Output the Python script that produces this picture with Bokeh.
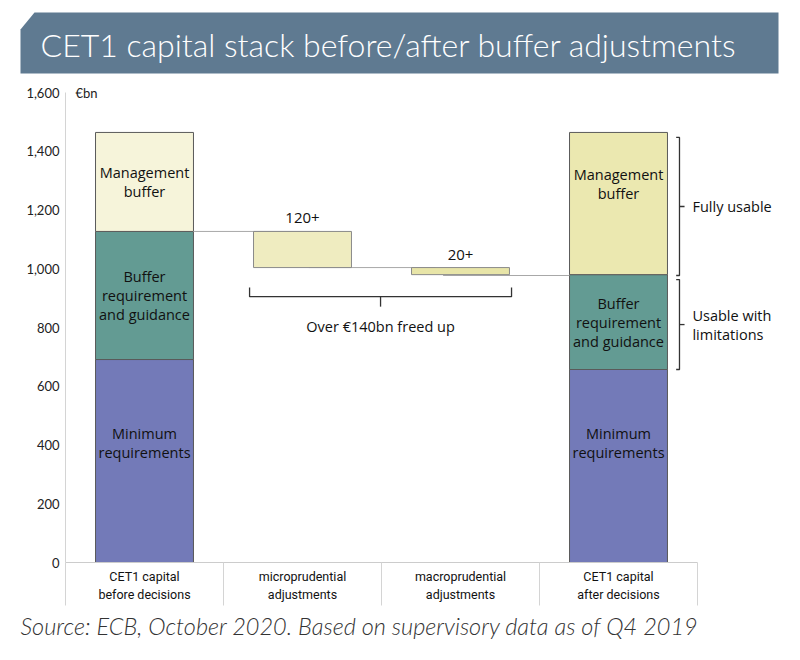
from bokeh.plotting import figure
from bokeh.layouts import column
from bokeh.models import FixedTicker, NumeralTickFormatter
from bokeh.core.properties import value
from bokeh.embed import file_html
from bokeh.resources import INLINE

# ---------------- data ----------------
categories = ["CET1 capital\nbefore decisions", "microprudential\nadjustments",
              "macroprudential\nadjustments", "CET1 capital\nafter decisions"]
segments = ["Minimum\nrequirements", "Buffer\nrequirement\nand guidance", "Management\nbuffer"]
before_vals = [691, 436, 337]     # €bn: minimum, buffer req., management buffer
after_vals = [657, 323, 484]
micro_release = 123               # "120+"
macro_release = 24                # "20+"
release_labels = ["120+", "20+"]
total_label = "Over €140bn freed up"
side_labels = ["Fully usable", "Usable with\nlimitations"]
y_ticks = [0, 200, 400, 600, 800, 1000, 1200, 1400, 1600]
unit_label = "€bn"
title_text = "CET1 capital stack before/after buffer adjustments"
source_text = "Source: ECB, October 2020. Based on supervisory data as of Q4 2019"

# ---------------- styles ----------------
W = 784
seg_colors_before = ["#737ab8", "#639b93", "#f6f4da"]
seg_colors_after = ["#737ab8", "#639b93", "#ebe8b0"]
box_colors = ["#efecc0", "#e8e5a8"]
LABEL_FONT = value("Open Sans")
bar_w = 0.62


def blank(h):
    f = figure(width=W, height=h, x_range=(0, W), y_range=(0, h),
               output_backend="svg", toolbar_location=None, min_border=0, frame_align=False)
    f.axis.visible = False
    f.grid.visible = False
    f.outline_line_color = None
    return f


# ---------------- header ----------------
hdr_h = 80
hdr = blank(hdr_h)
hdr.patch([20, 20, 34, 778, 778], [7, 51, 68, 68, 7], fill_color="#5f7a91", line_color=None)
hdr.text(x=[40], y=[36], text=[title_text], text_color="white", text_font_size="32px",
         text_font=value("Lato Light"), text_baseline="middle", text_align="left")

# ---------------- main chart ----------------
main_h = 526
px_per_cat = 158.0
px_per_unit = 470.0 / 1600.0
x_end = 4 + (W - 65 - 4 * px_per_cat) / px_per_cat
y_end = 1600 + 12 / px_per_unit
p = figure(width=W, height=main_h, x_range=(0, x_end), y_range=(0, y_end),
           output_backend="svg", toolbar_location=None, frame_align=False,
           min_border_left=65, min_border_right=0, min_border_top=0, min_border_bottom=44)
p.grid.visible = False
p.outline_line_color = None


def stack(vals):
    b, t = [], []
    acc = 0
    for v in vals:
        b.append(acc)
        acc += v
        t.append(acc)
    return b, t


bb, bt = stack(before_vals)
ab, at = stack(after_vals)
p.vbar(x=[0.5] * 3, bottom=bb, top=bt, width=bar_w, fill_color=seg_colors_before,
       line_color="#5a5a5a", line_width=1)
p.vbar(x=[3.5] * 3, bottom=ab, top=at, width=bar_w, fill_color=seg_colors_after,
       line_color="#5a5a5a", line_width=1)

# release boxes (waterfall)
micro_top = bt[1]
micro_bot = micro_top - micro_release
macro_top = micro_bot
macro_bot = macro_top - macro_release

# connectors
p.segment(x0=[0.5 + bar_w / 2, 1.54, 2.39], x1=[1.61, 2.34, 3.5 - bar_w / 2],
          y0=[micro_top, micro_bot, macro_bot - 3], y1=[micro_top, micro_bot, macro_bot - 3],
          line_color="#a8a8a8", line_width=1)

p.vbar(x=[1.5, 2.5], bottom=[micro_bot, macro_bot], top=[micro_top, macro_top], width=bar_w,
       fill_color=box_colors, line_color="#8a8a8a", line_width=1)
p.text(x=[1.5, 2.5], y=[micro_top, macro_top], text=release_labels, text_align="center",
       text_baseline="bottom", y_offset=-8, text_font=LABEL_FONT, text_font_size="15px",
       text_color="#111111")

# segment labels
lab_y_before = [408, (bb[1] + bt[1]) / 2, (bb[2] + bt[2]) / 2]
lab_y_after = [408, (ab[1] + at[1]) / 2, 1290]
p.text(x=[0.5] * 3 + [3.5] * 3, y=lab_y_before + lab_y_after, text=segments + segments,
       text_align="center", text_baseline="middle", text_font=LABEL_FONT,
       text_font_size="14.5px", text_line_height=1.0, text_color="#111111")

# bottom bracket
bx0, bx1 = 1.165, 2.823
bxm = (bx0 + bx1) / 2
p.multi_line(xs=[[bx0, bx0, bx1, bx1], [bxm, bxm]],
             ys=[[936, 905, 905, 936], [905, 871]], line_color="#333333", line_width=1.3)
p.text(x=[bxm], y=[803], text=[total_label], text_align="center", text_baseline="middle",
       text_font=LABEL_FONT, text_font_size="14.5px", text_color="#111111")

# right brackets
xv, xh, xt = 3.886, 3.865, 3.918
br = [(at[2] - 17, at[1] - 3), (at[1] - 17, at[0])]
xs, ys, ty = [], [], []
for top, bot in br:
    mid = (top + bot) / 2
    xs += [[xh, xv, xv, xh], [xv, xt]]
    ys += [[top, top, bot, bot], [mid, mid]]
    ty.append(mid)
p.multi_line(xs=xs, ys=ys, line_color="#333333", line_width=1.3)
p.text(x=[3.968] * 2, y=ty, text=side_labels, text_align="left", text_baseline="middle",
       text_font=LABEL_FONT, text_font_size="14.5px", text_color="#111111", text_line_height=1.0)

p.text(x=[0.063], y=[1600], text=[unit_label], text_align="left", text_baseline="middle",
       text_font=value("Lato"), text_font_size="13px", text_color="#222222")

# axes
p.yaxis.ticker = FixedTicker(ticks=y_ticks)
p.yaxis.bounds = (0, 1600)
p.yaxis.formatter = NumeralTickFormatter(format="0,0")
p.yaxis.axis_line_color = "#d4d4d4"
p.yaxis.major_tick_line_color = None
p.yaxis.minor_tick_line_color = None
p.yaxis.major_tick_out = 0
p.yaxis.major_label_standoff = 6
p.yaxis.major_label_text_font = "Lato"
p.yaxis.major_label_text_font_size = "13px"
p.yaxis.major_label_text_color = "#222222"

p.xaxis.ticker = FixedTicker(ticks=[0.5, 1.5, 2.5, 3.5], minor_ticks=[0, 1, 2, 3, 4])
p.xaxis.bounds = (0, 4)
p.xaxis.major_label_overrides = {0.5: categories[0], 1.5: categories[1],
                                 2.5: categories[2], 3.5: categories[3]}
p.xaxis.axis_line_color = "#cccccc"
p.xaxis.major_tick_line_color = None
p.xaxis.major_tick_out = 0
p.xaxis.minor_tick_line_color = "#d4d4d4"
p.xaxis.minor_tick_in = 0
p.xaxis.minor_tick_out = 43
p.xaxis.major_label_standoff = -37
p.xaxis.major_label_text_font = "Roboto"
p.xaxis.major_label_text_font_size = "12.5px"
p.xaxis.major_label_text_color = "#111111"

# ---------------- footer ----------------
ftr_h = 50
ftr = blank(ftr_h)
ftr.text(x=[20], y=[31], text=[source_text], text_color="#333333", text_font_size="23.5px",
         text_font=value("Lato Light"), text_font_style="italic",
         text_baseline="middle", text_align="left")

layout = column(hdr, p, ftr, spacing=0)
open("out.html", "w").write(file_html(layout, INLINE))
